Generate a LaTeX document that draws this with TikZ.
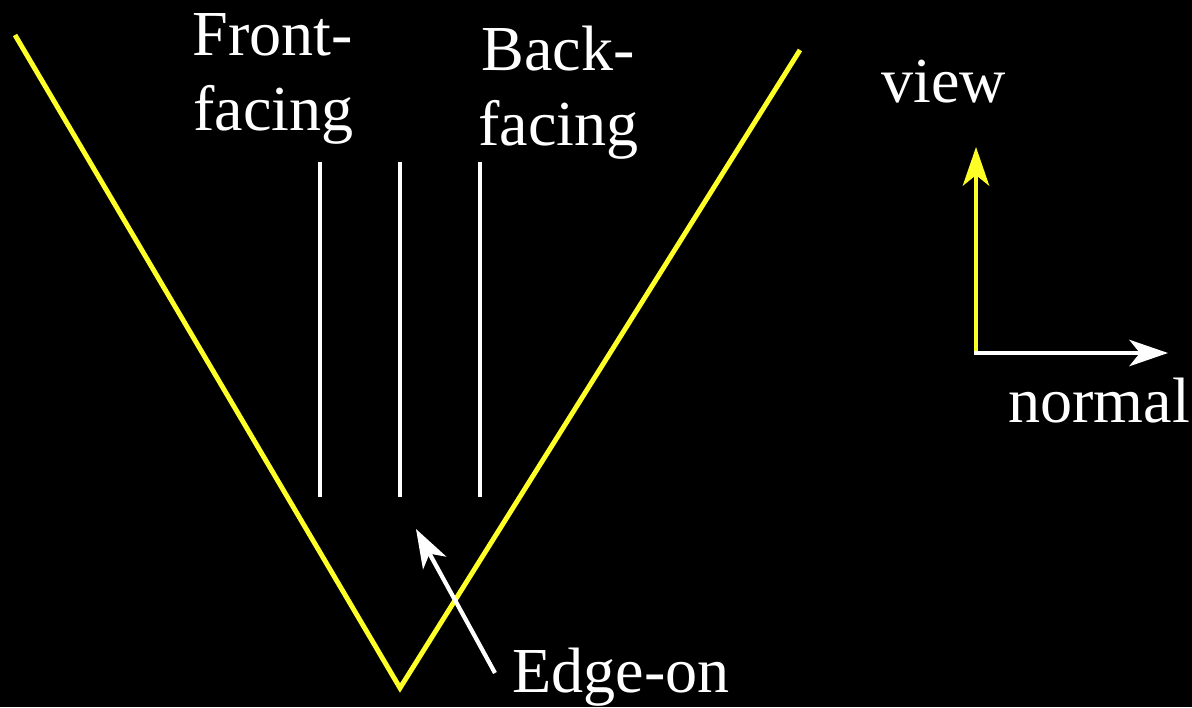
\documentclass[tikz,border=0pt]{standalone}
\usepackage{fontspec}
\setmainfont{Liberation Serif}
\usetikzlibrary{arrows.meta}
\definecolor{vyellow}{RGB}{255,255,40}
\tikzset{
  lbl/.style={text=white, font=\fontsize{36.5}{45}\selectfont, inner sep=0pt, anchor=base west},
  yline/.style={draw=vyellow, line width=2.8pt},
  wline/.style={draw=white, line width=2.4pt},
  tip/.style={-{Stealth[length=22pt,width=15pt,inset=6pt]}}
}
\begin{document}
\begin{tikzpicture}[x=0.02cm,y=-0.02cm]
\fill[black] (0,0) rectangle (1192,707);
\useasboundingbox (0,0) rectangle (1192,707);
\coordinate (vl) at (15,35);
\coordinate (vb) at (400,688);
\coordinate (vr) at (800,50);
\draw[yline, line join=miter] (vl) -- (vb) -- (vr);
\coordinate (a1) at (320,162); \coordinate (a2) at (320,497);
\coordinate (b1) at (400,162); \coordinate (b2) at (400,497);
\coordinate (c1) at (480,162); \coordinate (c2) at (480,497);
\draw[wline] (a1) -- (a2);
\draw[wline] (b1) -- (b2);
\draw[wline] (c1) -- (c2);
\coordinate (o) at (976,353);
\coordinate (vt) at (976,147);
\coordinate (nt) at (1168,353);
\draw[yline, line width=2.4pt, tip, vyellow] (o) -- (vt);
\draw[wline, tip] ([xshift=-1]o) -- (nt);
\coordinate (es) at (495,673);
\coordinate (et) at (416,529);
\draw[wline, tip] (es) -- (et);
\node[lbl] (front) at (192,55) {Front-};
\node[lbl] (front2) at (193,130) {facing};
\node[lbl] (back) at (481,70) {Back-};
\node[lbl] (back2) at (478,145) {facing};
\node[lbl] (view) at (881,102) {view};
\node[lbl] (normal) at (1008,422) {normal};
\node[lbl] (edge) at (512,692) {Edge-on};
\end{tikzpicture}
\end{document}
